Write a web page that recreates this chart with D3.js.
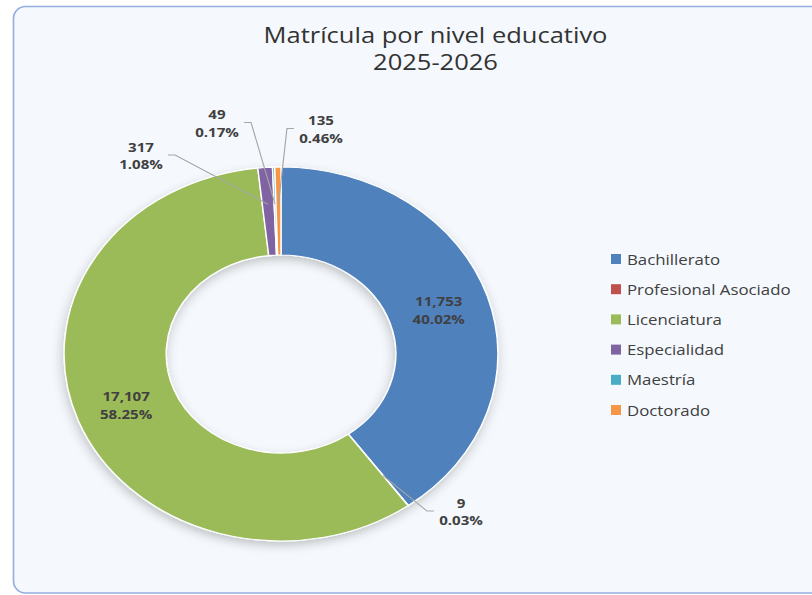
<!DOCTYPE html>
<html>
<head>
<meta charset="utf-8">
<script src="https://cdn.jsdelivr.net/npm/d3@7"></script>
<style>
  body { margin: 0; background: #ffffff; }
  svg { display: block; }
</style>
</head>
<body>
<div id="chart-container"></div>
<script>
// Data
var categories = ["Bachillerato", "Profesional Asociado", "Licenciatura", "Especialidad", "Maestría", "Doctorado"];
var values = [11753, 9, 17107, 317, 49, 135];
var colors = ["#4f81bd", "#c0504d", "#9bbb59", "#8064a2", "#4bacc6", "#f79646"];
var titleLines = ["Matrícula por nivel educativo", "2025-2026"];

// The original picture is stretched horizontally, so draw in a narrower
// box and let the viewBox stretch it
var width = 812, height = 595, sx = 1.16;
var vw = width / sx;

var svg = d3.select("#chart-container")
  .append("svg")
  .attr("width", width)
  .attr("height", height)
  .attr("viewBox", "0 0 " + vw + " " + height)
  .attr("preserveAspectRatio", "none");

var defs = svg.append("defs");
var shadow = defs.append("filter")
  .attr("id", "shadow")
  .attr("x", "-20%").attr("y", "-20%")
  .attr("width", "140%").attr("height", "140%");
shadow.append("feDropShadow")
  .attr("dx", -1).attr("dy", 4)
  .attr("stdDeviation", 5)
  .attr("flood-color", "#000")
  .attr("flood-opacity", 0.22);

// Chart area background and border
svg.append("rect")
  .attr("x", 13.5 / sx)
  .attr("y", 6.5)
  .attr("width", 900)
  .attr("height", 586.5)
  .attr("rx", 12 / sx)
  .attr("ry", 12)
  .attr("fill", "#f5f9fd")
  .attr("stroke", "#94ade0")
  .attr("stroke-width", 1.4);

// Title
var title = svg.append("text")
  .attr("x", 435.5 / sx)
  .attr("text-anchor", "middle")
  .style("font-family", "'Open Sans', 'Noto Sans', sans-serif")
  .style("font-size", "22px")
  .style("fill", "#333333");
title.selectAll("tspan")
  .data(titleLines)
  .enter()
  .append("tspan")
  .attr("x", 435.5 / sx)
  .attr("y", function(d, i) { return 43 + i * 27; })
  .text(function(d) { return d; });

// Donut
var cx = 281 / sx, cy = 354;
var outerR = 187, innerR = 99;
var total = d3.sum(values);

var pie = d3.pie().sort(null).value(function(d) { return d.value; });
var arc = d3.arc().innerRadius(innerR).outerRadius(outerR);

var rows = categories.map(function(c, i) {
  return { name: c, value: values[i], color: colors[i] };
});
var arcs = pie(rows);

var g = svg.append("g")
  .attr("transform", "translate(" + cx + "," + cy + ")");

g.append("g")
  .attr("filter", "url(#shadow)")
  .selectAll("path")
  .data(arcs)
  .enter()
  .append("path")
  .attr("d", arc)
  .attr("fill", function(d) { return d.data.color; })
  .attr("stroke", "#ffffff")
  .attr("stroke-width", 1.2);

var fmt = d3.format(",");
function pct(v) { return (v / total * 100).toFixed(2) + "%"; }

var labelStyle = function(sel) {
  sel.style("font-family", "'Open Sans', 'Noto Sans', sans-serif")
    .style("font-size", "13px")
    .style("font-weight", "bold")
    .style("fill", "#404040")
    .attr("text-anchor", "middle");
};

// Label placement for the thin slices (real pixels, centre of the text block)
var outsideLabels = {
  "Profesional Asociado": { x: 461, y: 511, side: "right" },
  "Especialidad": { x: 141, y: 155, side: "left" },
  "Maestría": { x: 217, y: 122.5, side: "left" },
  "Doctorado": { x: 321, y: 128.5, side: "right" }
};

arcs.forEach(function(d) {
  var out = outsideLabels[d.data.name];
  var lines = [fmt(d.data.value), pct(d.data.value)];
  if (!out) {
    var c = arc.centroid(d);
    var t = g.append("text").call(labelStyle);
    t.selectAll("tspan").data(lines).enter().append("tspan")
      .attr("x", c[0])
      .attr("y", function(s, i) { return c[1] - 4 + i * 18; })
      .text(function(s) { return s; });
    return;
  }
  var lx = out.x / sx, ly = out.y;
  var t2 = svg.append("text").call(labelStyle);
  t2.selectAll("tspan").data(lines).enter().append("tspan")
    .attr("x", lx)
    .attr("y", function(s, i) { return ly - 3 + i * 17.5; })
    .text(function(s) { return s; });
  var halfW = t2.node().getBBox().width / 2;
  var mid = (d.startAngle + d.endAngle) / 2;
  var px = cx + Math.sin(mid) * 150, py = cy - Math.cos(mid) * 150;
  var gap = 5 / sx, seg = 7 / sx;
  var ex, bx;
  if (out.side === "left") {
    ex = lx + halfW + gap; bx = ex + seg;
  } else {
    ex = lx - halfW - gap; bx = ex - seg;
  }
  svg.append("polyline")
    .attr("points", [[ex, ly], [bx, ly], [px, py]].map(function(p) { return p.join(","); }).join(" "))
    .attr("fill", "none")
    .attr("stroke", "#a6a6a6")
    .attr("stroke-width", 1);
});

// Legend
var legend = svg.append("g")
  .attr("transform", "translate(" + (611 / sx) + ",259)");

var legendItems = legend.selectAll(".legend-item")
  .data(rows)
  .enter()
  .append("g")
  .attr("class", "legend-item")
  .attr("transform", function(d, i) { return "translate(0," + (i * 30.2) + ")"; });

legendItems.append("rect")
  .attr("x", 0)
  .attr("y", -5)
  .attr("width", 10 / sx)
  .attr("height", 10)
  .attr("fill", function(d) { return d.color; });

legendItems.append("text")
  .attr("x", 16 / sx)
  .attr("y", 5.5)
  .style("font-family", "'Open Sans', 'Noto Sans', sans-serif")
  .style("font-size", "14.5px")
  .style("fill", "#404040")
  .text(function(d) { return d.name; });
</script>
</body>
</html>
